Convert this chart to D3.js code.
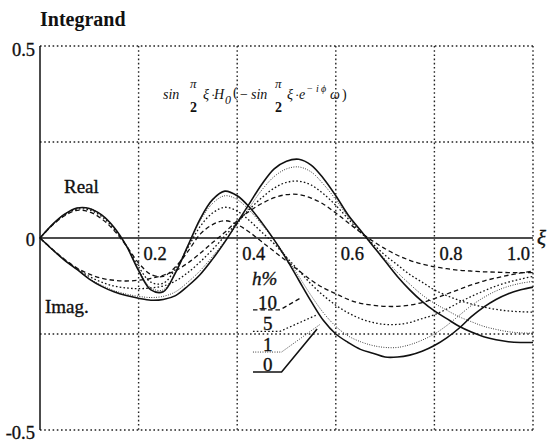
<!DOCTYPE html>
<html>
<head>
<meta charset="utf-8">
<script src="https://cdn.jsdelivr.net/npm/d3@7"></script>
<style>
  html, body { margin: 0; padding: 0; background: #fff; }
  svg text { fill: #111; }
</style>
</head>
<body>
<svg id="chart" width="547" height="442"></svg>
<script>
// Sample points along ξ
const xi = [0,0.025,0.05,0.075,0.1,0.125,0.15,0.175,0.2,0.225,0.25,0.275,0.3,0.325,0.35,0.375,0.4,0.425,0.45,0.475,0.5,0.525,0.55,0.575,0.6,0.625,0.65,0.675,0.7,0.725,0.75,0.775,0.8,0.825,0.85,0.875,0.9,0.925,0.95,0.975,1.0];

// Real part of the integrand for each damping h%
const real0  = [0,.035,.062,.078,.077,.06,.028,-.02,-.085,-.135,-.14,-.09,-.02,.05,.1,.122,.11,.08,.04,-.005,-.055,-.11,-.165,-.215,-.25,-.272,-.29,-.3,-.31,-.31,-.305,-.295,-.28,-.26,-.235,-.205,-.18,-.16,-.145,-.135,-.128];
const real1  = [0,.035,.062,.078,.077,.06,.027,-.02,-.083,-.13,-.135,-.088,-.022,.045,.09,.11,.1,.072,.035,-.005,-.05,-.1,-.15,-.195,-.23,-.255,-.27,-.28,-.285,-.285,-.278,-.266,-.25,-.228,-.202,-.176,-.155,-.138,-.126,-.118,-.113];
const real5  = [0,.034,.06,.075,.073,.056,.024,-.02,-.075,-.115,-.118,-.08,-.025,.03,.065,.08,.07,.045,.015,-.015,-.05,-.085,-.12,-.15,-.175,-.195,-.21,-.22,-.225,-.225,-.22,-.21,-.2,-.185,-.168,-.152,-.138,-.125,-.115,-.107,-.1];
const real10 = [0,.033,.058,.072,.068,.05,.02,-.02,-.065,-.095,-.1,-.075,-.035,.01,.035,.045,.035,.015,-.01,-.035,-.06,-.085,-.11,-.13,-.145,-.16,-.17,-.175,-.178,-.178,-.175,-.168,-.158,-.146,-.134,-.122,-.112,-.104,-.097,-.091,-.086];

// Imaginary part of the integrand for each damping h%
const imag0  = [0,-.03,-.058,-.082,-.107,-.126,-.14,-.15,-.157,-.162,-.16,-.15,-.125,-.095,-.055,-.01,.04,.09,.14,.18,.2,.205,.19,.155,.11,.06,.02,-.02,-.06,-.1,-.135,-.165,-.19,-.21,-.23,-.245,-.257,-.265,-.27,-.272,-.272];
const imag1  = [0,-.03,-.058,-.082,-.106,-.123,-.137,-.146,-.152,-.155,-.152,-.14,-.115,-.085,-.048,-.008,.035,.08,.125,.16,.18,.185,.172,.14,.1,.055,.018,-.02,-.055,-.09,-.12,-.148,-.17,-.188,-.205,-.218,-.23,-.238,-.244,-.247,-.248];
const imag5  = [0,-.03,-.057,-.08,-.1,-.115,-.125,-.13,-.132,-.13,-.125,-.112,-.09,-.062,-.03,.005,.04,.075,.105,.13,.145,.148,.138,.115,.085,.05,.015,-.015,-.045,-.07,-.095,-.115,-.135,-.15,-.162,-.172,-.18,-.186,-.19,-.192,-.193];
const imag10 = [0,-.029,-.056,-.078,-.094,-.105,-.11,-.112,-.11,-.105,-.097,-.085,-.065,-.04,-.012,.015,.045,.07,.09,.105,.113,.113,.104,.088,.065,.04,.015,-.008,-.028,-.045,-.058,-.068,-.075,-.08,-.084,-.086,-.088,-.089,-.09,-.09,-.09];

const dampings = ["0", "1", "5", "10"];
const xTicks = [0.2, 0.4, 0.6, 0.8, 1.0];
const xTickLabels = ["0.2", "0.4", "0.6", "0.8", "1.0"];
const yTicks = [0.5, 0, -0.5];
const yTickLabels = ["0.5", "0", "-0.5"];
const yGrid = [0.5, 0.25, -0.25, -0.5];

// Leader lines from the h% labels to the curves: [ξ, value] pairs
const leaders = {
  "10": [[0.432, -0.187], [0.487, -0.187], [0.53, -0.155]],
  "5":  [[0.432, -0.243], [0.487, -0.243], [0.562, -0.2]],
  "1":  [[0.432, -0.297], [0.49, -0.297], [0.568, -0.225]],
  "0":  [[0.432, -0.349], [0.49, -0.349], [0.562, -0.237]]
};

const svg = d3.select("#chart");
const x = d3.scaleLinear().domain([0, 1]).range([40, 533]);
const y = d3.scaleLinear().domain([-0.5, 0.5]).range([430, 46]);

const serif = "'Liberation Serif', 'Times New Roman', serif";

const styles = {
  "0":  { dash: null,      width: 1.6 },
  "1":  { dash: "0.8,1.6", width: 1.0 },
  "5":  { dash: "1.6,2.2", width: 1.3 },
  "10": { dash: "4.5,3",   width: 1.3 }
};

// grid
const gridDash = "1.6,2.6";
const g = svg.append("g");
xTicks.forEach(t => {
  g.append("line").attr("x1", x(t)).attr("x2", x(t)).attr("y1", y(0.5)).attr("y2", y(-0.5))
    .attr("stroke", "#222").attr("stroke-width", 1.4).attr("stroke-dasharray", gridDash);
});
yGrid.forEach(t => {
  g.append("line").attr("x1", x(0)).attr("x2", x(1)).attr("y1", y(t)).attr("y2", y(t))
    .attr("stroke", "#222").attr("stroke-width", 1.4).attr("stroke-dasharray", gridDash);
});

// axes
g.append("line").attr("x1", x(0)).attr("x2", x(0)).attr("y1", y(0.5)).attr("y2", y(-0.5))
  .attr("stroke", "#111").attr("stroke-width", 1.5);
g.append("line").attr("x1", x(0)).attr("x2", x(1)).attr("y1", y(0)).attr("y2", y(0))
  .attr("stroke", "#111").attr("stroke-width", 1.5);

// curves
const line = d3.line().x(d => x(d[0])).y(d => y(d[1])).curve(d3.curveCatmullRom.alpha(0.5));
const series = [
  ["10", real10], ["5", real5], ["1", real1], ["0", real0],
  ["10", imag10], ["5", imag5], ["1", imag1], ["0", imag0]
];
series.forEach(([h, vals]) => {
  const st = styles[h];
  svg.append("path")
    .attr("d", line(xi.map((v, i) => [v, vals[i]])))
    .attr("fill", "none").attr("stroke", "#111")
    .attr("stroke-width", st.width)
    .attr("stroke-dasharray", st.dash);
});

// text helper: serif with a light stroke for the heavy print look
function label(sel, txt, px, py, size) {
  return sel.append("text").attr("x", px).attr("y", py)
    .attr("font-family", serif).attr("font-size", size)
    .attr("stroke", "#111").attr("stroke-width", 0.35)
    .text(txt);
}

// tick labels
xTicks.forEach((t, i) => {
  const last = i === xTicks.length - 1;
  label(svg, xTickLabels[i], last ? x(t) - 3 : x(t) + 5, y(0) + 22, 18.5)
    .attr("text-anchor", last ? "end" : "start");
});
const yLabelShift = [10, 8, 9];
yTicks.forEach((t, i) => {
  label(svg, yTickLabels[i], x(0) - 5, y(t) + yLabelShift[i], 18.5)
    .attr("text-anchor", "end");
});
label(svg, "ξ", x(1) + 4, y(0) + 7, 21).attr("font-style", "italic");

// title
svg.append("text").attr("x", 40).attr("y", 26)
  .attr("font-family", serif).attr("font-weight", "bold").attr("font-size", 20)
  .text("Integrand");

// curve names
label(svg, "Real", 64, 193, 19);
label(svg, "Imag.", 45, 313, 19);

// formula, each token placed on its own
const fm = svg.append("g").attr("font-family", serif).attr("font-style", "italic").attr("font-size", 14);
function put(txt, px, py, size, upright) {
  const t = fm.append("text").attr("x", px).attr("y", py).text(txt);
  if (size) t.attr("font-size", size);
  if (upright) t.attr("font-style", "normal");
  return t;
}
function frac(px, py) {
  put("π", px, py - 11, 13);
  put("2", px, py + 13, 14, true).attr("font-weight", "bold");
}
const fy = 99;
put("sin", 163, fy);
frac(190, fy);
put("ξ", 203, fy);
put("·", 211, fy, 13, true);
put("H", 214, fy);
put("0", 225, fy + 5, 12);
put("(", 233, fy - 2, 14, true);
put("−", 240, fy, 14, true);
put("sin", 251, fy);
frac(275, fy);
put("ξ", 287, fy);
put("·", 295, fy, 13, true);
put("e", 299, fy);
put("−", 307, fy - 7, 10, true);
put("i", 316, fy - 7, 10);
put("ϕ", 321, fy - 7, 10);
put("ω", 330, fy);
put(")", 342, fy, 14, true);

// damping legend
label(svg, "h%", 252, 285, 19).attr("font-style", "italic");
const labelY = { "10": 309, "5": 330, "1": 351, "0": 371 };
const labelX = { "10": 258, "5": 263, "1": 263, "0": 263 };
dampings.forEach(h => {
  label(svg, h, labelX[h], labelY[h], 19);
  const st = styles[h];
  svg.append("path")
    .attr("d", d3.line().x(d => x(d[0])).y(d => y(d[1]))(leaders[h]))
    .attr("fill", "none").attr("stroke", "#111")
    .attr("stroke-width", st.width)
    .attr("stroke-dasharray", st.dash);
});
</script>
</body>
</html>
